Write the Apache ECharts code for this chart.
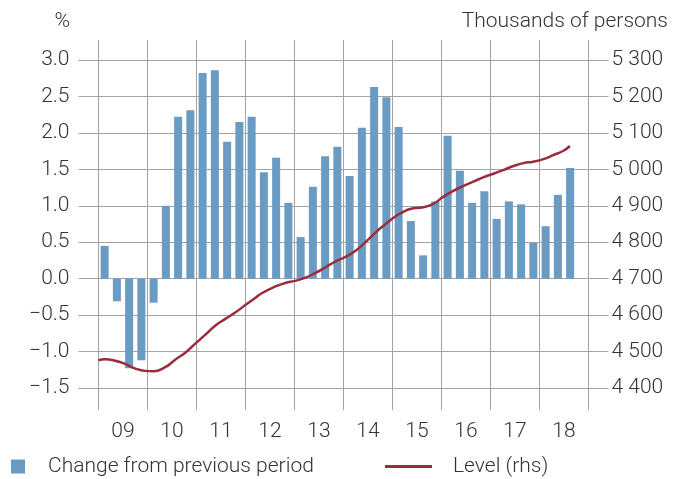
<!DOCTYPE html>
<html lang="en">
<head>
    <meta charset="UTF-8">
    <title>Employment</title>
    <style>
        html, body { margin: 0; padding: 0; background: #fff; }
    </style>
</head>
<body>
<div id="chart1" style="width:673px; height:479px;"></div>
<script type="text/javascript" src="https://cdn.jsdelivr.net/npm/echarts@6/dist/echarts.min.js"></script>
<script type="text/javascript">
// quarters 2009Q1 .. 2018Q4
var quarters = [];
for (var y = 2009; y <= 2018; y++) {
    for (var q = 1; q <= 4; q++) quarters.push(y + 'Q' + q);
}
var yearLabels = ['09', '10', '11', '12', '13', '14', '15', '16', '17', '18'];

// change from previous period, %
var changePct = [
    0.45, -0.31, -1.23, -1.12,
    -0.33, 1.00, 2.22, 2.31,
    2.82, 2.86, 1.88, 2.15,
    2.22, 1.46, 1.66, 1.04,
    0.57, 1.26, 1.68, 1.81,
    1.41, 2.07, 2.63, 2.49,
    2.08, 0.79, 0.32, 1.06,
    1.96, 1.48, 1.04, 1.20,
    0.82, 1.06, 1.02, 0.49,
    0.72, 1.15, 1.52, null
];

// level, thousands of persons (rhs), time in years
var levelTime = [
    2009.00, 2009.13, 2009.34, 2009.54, 2009.74, 2009.95, 2010.12, 2010.36, 2010.56, 2010.77,
    2010.97, 2011.17, 2011.38, 2011.58, 2011.79, 2011.99, 2012.19, 2012.33, 2012.60, 2012.81,
    2013.01, 2013.21, 2013.42, 2013.62, 2013.83, 2014.03, 2014.24, 2014.44, 2014.64, 2014.85,
    2015.05, 2015.22, 2015.36, 2015.63, 2015.83, 2016.04, 2016.24, 2016.44, 2016.65, 2016.85,
    2017.06, 2017.26, 2017.47, 2017.67, 2017.87, 2018.08, 2018.28, 2018.49, 2018.62
];
var levelValue = [
    4476, 4479, 4475, 4466, 4454, 4447, 4446, 4457, 4477, 4497,
    4521, 4545, 4571, 4589, 4607, 4627, 4646, 4660, 4678, 4688,
    4694, 4702, 4715, 4730, 4747, 4759, 4776, 4799, 4825, 4849,
    4870, 4883, 4891, 4896, 4905, 4925, 4941, 4954, 4966, 4978,
    4988, 4998, 5009, 5017, 5021, 5028, 5039, 5051, 5064
];

var levelData = [];
for (var i = 0; i < levelTime.length; i++) levelData.push([levelTime[i], levelValue[i]]);

var FONT = 'Roboto';
var FS = 21;
var TXT = '#333';
var GRID_COL = '#a3a3a3';

var option = {
    animation: false,
    textStyle: { fontFamily: FONT },
    grid: [
        { left: 98.5, right: 84.5, top: 60, bottom: 91 },
        { left: 98.5, right: 84.5, top: 40, bottom: 69 }
    ],
    legend: [
        {
            data: ['Change from previous period'],
            left: 11, top: 456, padding: 0,
            icon: 'rect', itemWidth: 14, itemHeight: 14,
            textStyle: { fontFamily: FONT, fontWeight: 300, fontSize: FS, color: TXT, padding: [0, 0, 0, 18] }
        },
        {
            data: ['Level (rhs)'],
            left: 385, top: 456, padding: 0,
            icon: 'rect', itemWidth: 47, itemHeight: 3,
            textStyle: { fontFamily: FONT, fontWeight: 300, fontSize: FS, color: TXT, padding: [0, 0, 0, 16] }
        }
    ],
    graphic: [
        { type: 'text', right: 603, top: 11, style: { text: '%', font: '300 ' + FS + 'px ' + FONT, fill: TXT } },
        { type: 'text', right: 5, top: 11, style: { text: 'Thousands of persons', font: '300 ' + FS + 'px ' + FONT, fill: TXT } }
    ],
    xAxis: [
        { type: 'category', gridIndex: 0, data: quarters, show: false },
        { type: 'value', gridIndex: 0, min: 2009, max: 2019, show: false },
        {
            type: 'category', gridIndex: 1, data: yearLabels,
            axisLine: { show: false },
            axisTick: { show: false },
            splitLine: { show: true, interval: 0, lineStyle: { color: GRID_COL, width: 1 } },
            axisLabel: { margin: 11, fontSize: FS, fontWeight: 300, color: TXT, fontFamily: FONT }
        }
    ],
    yAxis: [
        {
            type: 'value', gridIndex: 0, min: -1.5, max: 3.0, interval: 0.5,
            axisLine: { show: false },
            axisTick: { show: true, length: 20, lineStyle: { color: GRID_COL } },
            splitLine: { show: true, lineStyle: { color: GRID_COL, width: 1 } },
            axisLabel: {
                margin: 29, fontSize: FS, fontWeight: 300, color: TXT, fontFamily: FONT,
                formatter: function (v) { return v.toFixed(1).replace('-', '\u2212'); }
            }
        },
        {
            type: 'value', gridIndex: 0, position: 'right', min: 4400, max: 5300, interval: 100,
            axisLine: { show: false },
            axisTick: { show: true, length: 20, lineStyle: { color: GRID_COL } },
            splitLine: { show: false },
            axisLabel: {
                margin: 23, fontSize: FS, fontWeight: 300, color: TXT, fontFamily: FONT,
                formatter: function (v) { return String(v).replace(/\B(?=(\d{3})+$)/, ' '); }
            }
        },
        { type: 'value', gridIndex: 1, show: false }
    ],
    series: [
        {
            name: 'Change from previous period',
            type: 'bar',
            xAxisIndex: 0, yAxisIndex: 0,
            barWidth: 8,
            itemStyle: { color: '#6a9bc3' },
            data: changePct
        },
        {
            name: 'Level (rhs)',
            type: 'line',
            xAxisIndex: 1, yAxisIndex: 1,
            smooth: true,
            showSymbol: false,
            lineStyle: { color: '#9b2c3e', width: 2.5 },
            itemStyle: { color: '#9b2c3e' },
            data: levelData
        }
    ]
};

var myChart = echarts.init(document.getElementById('chart1'));
myChart.setOption(option);
</script>
</body>
</html>
